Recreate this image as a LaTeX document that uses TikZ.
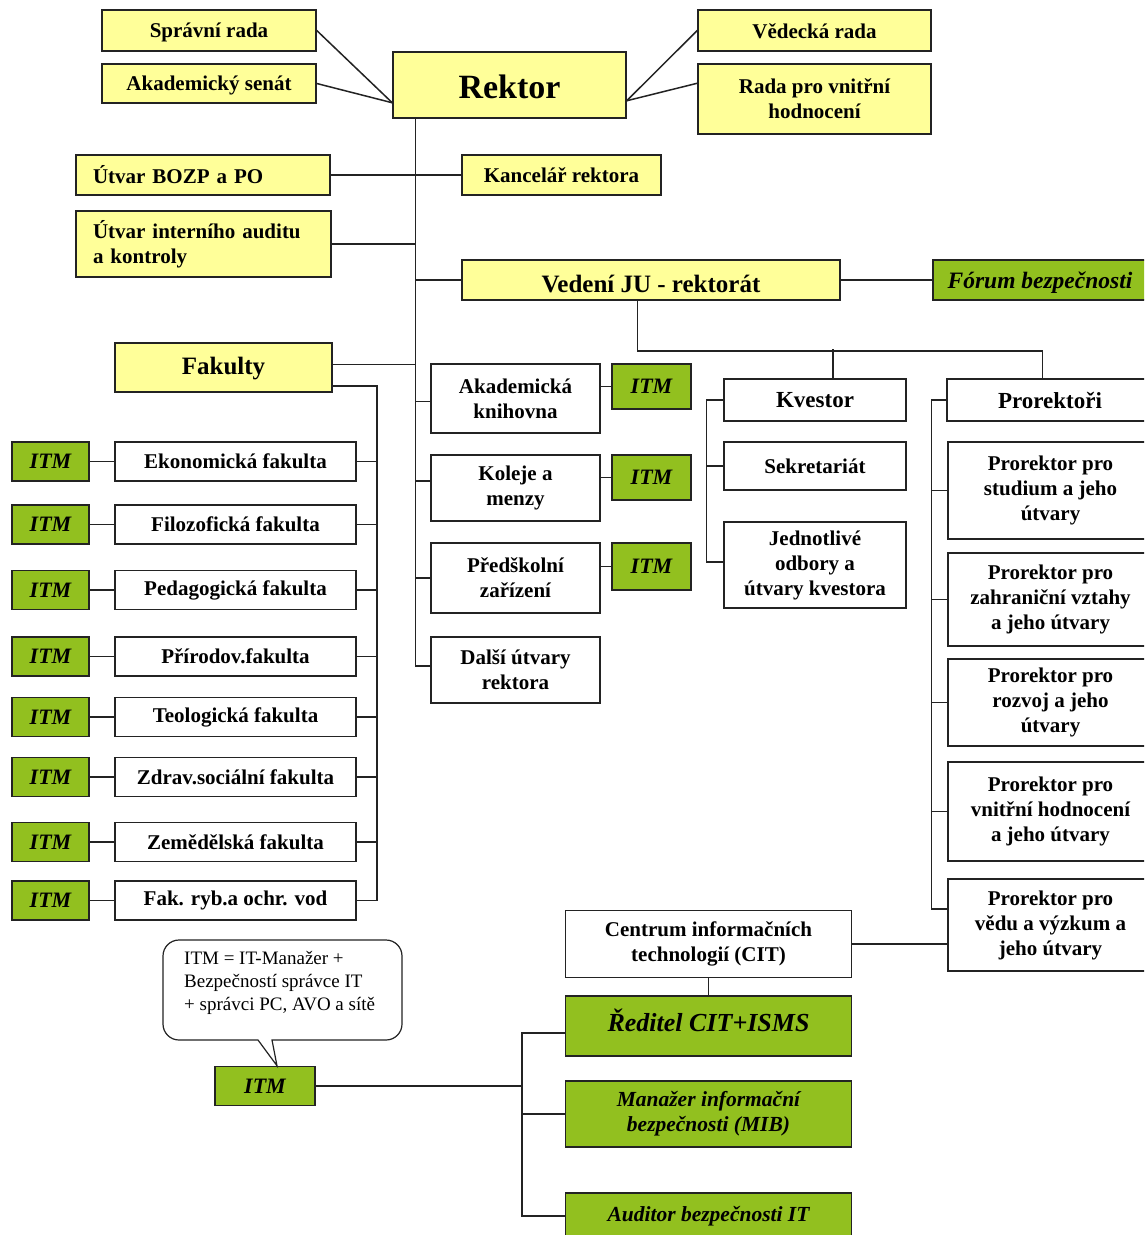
\documentclass[tikz,border=0pt]{standalone}
\usepackage{fontspec}
\setmainfont{Liberation Serif}
\usetikzlibrary{calc}
\definecolor{yel}{RGB}{255,255,153}
\definecolor{grn}{RGB}{146,192,31}
\definecolor{ink}{RGB}{35,35,35}
\newcommand\fsz[2]{\fontsize{#1pt}{#2pt}\selectfont}
\newcommand\shiftup[2]{\raisebox{#1}[\height][\depth]{#2}}
\tikzset{
 bx/.style={draw=ink, line width=1.5pt, inner sep=1pt, align=center, font=\fsz{21}{25}\bfseries},
 ybox/.style={bx, fill=yel},
 wbox/.style={bx, fill=white},
 gbox/.style={bx, fill=grn, font=\fsz{22}{25}\bfseries\itshape},
 ln/.style={draw=ink, line width=1.5pt},
 sz/.style 2 args={minimum width=#1pt, minimum height=#2pt},
}
\begin{document}
\begin{tikzpicture}[x=1pt,y=-1pt]
\useasboundingbox (0,0) rectangle (1144,1235);
\fill[white] (0,0) rectangle (1144,1235);
\begin{scope}
\clip (0,0) rectangle (1144,1235);
% top
\node[ybox, sz={214}{41}] (spr) at (209,30.5) {\shiftup{-2pt}{Správní rada}};
\node[ybox, sz={214}{39}] (aks) at (209,83.5) {\shiftup{-2pt}{Akademický senát}};
\node[ybox, sz={233}{66}, font=\fsz{34}{40}\bfseries] (rek) at (509.5,85) {\shiftup{-2pt}{Rektor}};
\node[ybox, sz={233}{41}] (ved) at (814.5,30.5) {\shiftup{-1pt}{Vědecká rada}};
\node[ybox, sz={233}{70}] (rvh) at (814.5,99) {Rada pro vnitřní\\hodnocení};
\node[ybox, sz={254}{40}, text width=220pt, align=left] (bozp) at (203,175) {Útvar BOZP a PO};
\node[ybox, sz={255}{66}, text width=221pt, align=left] (aud) at (203.5,244) {Útvar interního auditu\\a kontroly};
\node[ybox, sz={199}{40}] (kanc) at (561.5,175) {Kancelář rektora};
\node[ybox, sz={378}{40}, font=\fsz{25}{28}\bfseries] (vjr) at (651,280) {\shiftup{-4pt}{Vedení JU - rektorát}};
\node[gbox, sz={214}{40}, font=\fsz{23.5}{28}\bfseries\itshape] (forum) at (1040,280) {\shiftup{-3pt}{Fórum bezpečnosti}};
\node[ybox, sz={217}{49}, font=\fsz{25}{28}\bfseries] (fak) at (223.5,367.5) {\shiftup{-1pt}{Fakulty}};
\coordinate (FB) at ($(fak.south east)+(44,-7)$);
% faculties
\foreach \n/\y/\t in {1/461.5/Ekonomická fakulta, 2/524.5/Filozofická fakulta, 3/590/Pedagogická fakulta, 4/656.5/Přírodov.fakulta, 5/717/Teologická fakulta, 6/777/Zdrav.sociální fakulta, 7/842/Zemědělská fakulta, 8/900.5/Fak. ryb.a ochr. vod}{
  \node[wbox, sz={241}{39}] (f\n) at (235.5,\y) {\t};
  \node[gbox, sz={77}{39}] (i\n) at (50.5,\y) {ITM};
  \draw[ln] (i\n) -- (f\n);
  \draw[ln] (f\n.east) -- (f\n.east -| FB);
}
\draw[ln] ($(fak.south east)+(0,-7)$) -- (FB) |- (f8.east);
% middle column
\node[wbox, sz={169}{69}] (ak) at (515.5,398.5) {Akademická\\knihovna};
\node[gbox, sz={79}{45}] (itm1) at (651.5,386.5) {ITM};
\node[wbox, sz={169}{66}] (kol) at (515.5,488) {Koleje a\\menzy};
\node[gbox, sz={79}{45}] (itm2) at (651.5,477.5) {ITM};
\node[wbox, sz={169}{70}] (pred) at (515.5,578) {Předškolní\\zařízení};
\node[gbox, sz={79}{47}] (itm3) at (651.5,566.5) {ITM};
\node[wbox, sz={169}{66}] (dal) at (515.5,670) {Další útvary\\rektora};
% kvestor
\node[wbox, sz={182}{42}, font=\fsz{23}{27}\bfseries] (kv) at (815,400) {Kvestor};
\node[wbox, sz={182}{48}] (sek) at (815,466) {Sekretariát};
\node[wbox, sz={182}{86}] (jed) at (815,565) {Jednotlivé\\odbory a\\útvary kvestora};
% prorektori
\node[wbox, sz={206}{42}, font=\fsz{23}{27}\bfseries] (pro) at (1050,400) {Prorektoři};
\node[wbox, sz={205}{97}] (p1) at (1050.5,490.5) {Prorektor pro\\studium a jeho\\útvary};
\node[wbox, sz={205}{93}] (p2) at (1050.5,599.5) {Prorektor pro\\zahraniční vztahy\\a jeho útvary};
\node[wbox, sz={205}{87}] (p3) at (1050.5,702.5) {Prorektor pro\\rozvoj a jeho\\útvary};
\node[wbox, sz={205}{99}] (p4) at (1050.5,811.5) {Prorektor pro\\vnitřní hodnocení\\a jeho útvary};
\node[wbox, sz={205}{92}] (p5) at (1050.5,925) {Prorektor pro\\vědu a výzkum a\\jeho útvary};
% bottom
\node[wbox, sz={286}{67}] (cit) at (708.5,944) {Centrum informačních\\technologií (CIT)};
\node[gbox, sz={286}{60}, font=\fsz{26}{30}\bfseries\itshape] (red) at (708.5,1026) {\shiftup{6pt}{Ředitel CIT+ISMS}};
\node[gbox, sz={286}{66}, font=\fsz{21.5}{25}\bfseries\itshape] (man) at (708.5,1114) {Manažer informační\\bezpečnosti (MIB)};
\node[gbox, sz={286}{46}, font=\fsz{21.5}{25}\bfseries\itshape] (audit) at (708.5,1216) {Auditor bezpečnosti IT};
\node[gbox, sz={100}{39}] (itmb) at (265,1086) {ITM};
% callout
\draw[ln, line width=1.2pt, fill=white] (258,1040) [rounded corners=16pt] -- (163,1040) -- (163,940) -- (402,940) -- (402,1040) [sharp corners] -- (272,1040) -- ($(itmb.north)+(12,0)$) -- cycle;
\node[anchor=north west, inner sep=0pt, align=left, font=\fsz{19}{23}] (ctx) at (184,951) {ITM = IT-Manažer +\\Bezpečností správce IT\\+ správci PC, AVO a sítě};
% connectors
\draw[ln] (spr.east) -- ($(rek.south west)+(0,-16)$);
\draw[ln] (aks.east) -- ($(rek.south west)+(0,-16)$);
\draw[ln] (ved.west) -- ($(rek.south east)+(0,-18)$);
\draw[ln] ($(rvh.north west)+(0,20)$) -- ($(rek.south east)+(0,-18)$);
\coordinate (T) at ($(rek.south west)+(23,0)$);
\draw[ln] (T) |- ($(dal.west)+(0,-4)$);
\draw[ln] (bozp.east) -- (kanc.west);
\draw[ln] (aud.east) -- (aud.east -| T);
\draw[ln] (vjr.west -| T) -- (vjr.west);
\draw[ln] (vjr.east) -- (forum.west);
\draw[ln] ($(fak.east)+(0,-3)$) -- ($(fak.east -| T)+(0,-3)$);
\draw[ln] ($(ak.west -| T)+(0,3)$) -- ($(ak.west)+(0,3)$);
\draw[ln] ($(kol.west -| T)+(0,-7)$) -- ($(kol.west)+(0,-7)$);
\draw[ln] (pred.west -| T) -- (pred.west);
\draw[ln] (ak.east |- itm1.west) -- (itm1.west);
\draw[ln] (kol.east |- itm2.west) -- (itm2.west);
\draw[ln] (pred.east |- itm3.west) -- (itm3.west);
\draw[ln] ($(vjr.south west)+(176,0)$) -- ++(0,50) -| ($(pro.north west)+(96,0)$);
\draw[ln] ($(kv.north)+(18,0)$) -- ++(0,-29);
\draw[ln] (kv.west) -- ++(-17,0) |- ($(jed.west)+(0,-3)$);
\draw[ln] (sek.west) -- ++(-17,0);
\draw[ln] (pro.west) -- ++(-15,0) |- ($(p5.west)+(0,-16)$);
\foreach \p in {p1,p2,p3,p4}{\draw[ln] (\p.west) -- ++(-16,0);}
\draw[ln] (cit.east) -- (cit.east -| p5.west);
\draw[ln] (cit.south) -- (red.north);
\coordinate (BR) at ($(red.west)+(-43,7)$);
\draw[ln] ($(red.west)+(0,7)$) -- (BR) |- (audit.west);
\draw[ln] (man.west) -- (man.west -| BR);
\draw[ln] (itmb.east) -- (itmb.east -| BR);
\end{scope}
\end{tikzpicture}
\end{document}
